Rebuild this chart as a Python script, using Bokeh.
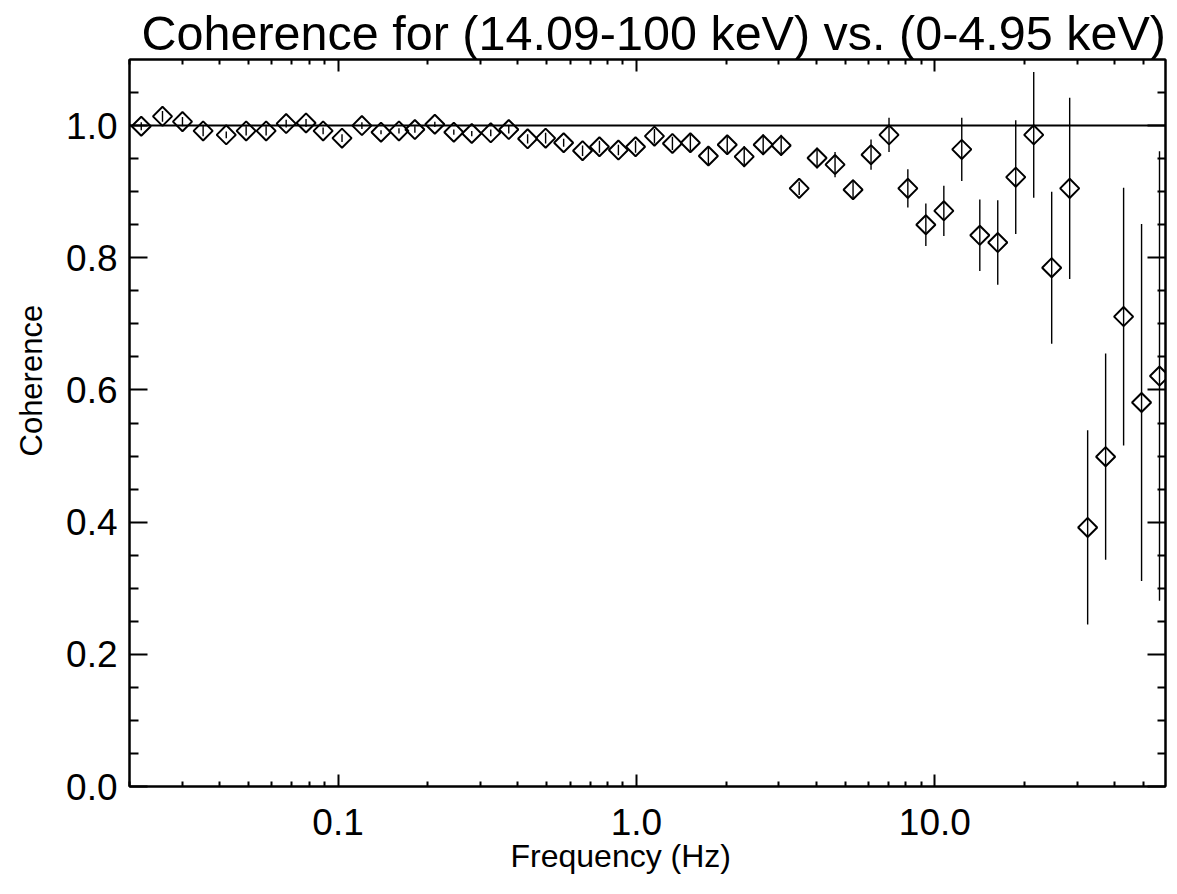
import numpy as np
from bokeh.plotting import figure
from bokeh.models import (FixedTicker, NumeralTickFormatter, LinearAxis, LogAxis,
                          Span, ColumnDataSource, Range1d, CustomJSTickFormatter, Title)
from bokeh.embed import file_html
from bokeh.resources import INLINE

# ---- data ----
freq = [0.0219, 0.0258, 0.0301, 0.0353, 0.0422, 0.0492, 0.0574, 0.0670, 0.0781, 0.0891,
        0.1031, 0.1202, 0.1393, 0.1600, 0.1809, 0.2110, 0.2443, 0.2806, 0.3249, 0.3733,
        0.4318, 0.4961, 0.5702, 0.6598, 0.7516, 0.8700, 0.9931, 1.149, 1.320, 1.516,
        1.742, 2.015, 2.297, 2.659, 3.055, 3.511, 4.030, 4.630, 5.320, 6.112,
        7.022, 8.120, 9.33, 10.72, 12.31, 14.15, 16.25, 18.67, 21.45, 24.64,
        28.31, 32.52, 37.36, 42.92, 49.30, 56.62]
coherence = [0.999, 1.014, 1.006, 0.992, 0.986, 0.992, 0.992, 1.003, 1.004, 0.992,
             0.981, 1.000, 0.990, 0.992, 0.994, 1.002, 0.990, 0.988, 0.989, 0.994,
             0.980, 0.981, 0.974, 0.962, 0.968, 0.963, 0.968, 0.984, 0.973, 0.974,
             0.954, 0.971, 0.953, 0.971, 0.970, 0.905, 0.951, 0.941, 0.903, 0.956,
             0.986, 0.905, 0.850, 0.871, 0.964, 0.834, 0.823, 0.922, 0.986, 0.785,
             0.905, 0.392, 0.499, 0.711, 0.581, 0.621]
coh_err = [0.006, 0.008, 0.007, 0.008, 0.005, 0.007, 0.007, 0.006, 0.006, 0.005,
           0.006, 0.005, 0.003, 0.004, 0.005, 0.004, 0.004, 0.004, 0.005, 0.006,
           0.007, 0.008, 0.006, 0.008, 0.009, 0.008, 0.009, 0.011, 0.010, 0.012,
           0.013, 0.012, 0.016, 0.016, 0.016, 0.010, 0.016, 0.019, 0.015, 0.023,
           0.026, 0.029, 0.032, 0.038, 0.048, 0.054, 0.064, 0.086, 0.095, 0.115,
           0.137, 0.147, 0.156, 0.195, 0.270, 0.340]

x_major = [0.1, 1.0, 10.0]
x_minor = [0.02, 0.03, 0.04, 0.05, 0.06, 0.07, 0.08, 0.09,
           0.2, 0.3, 0.4, 0.5, 0.6, 0.7, 0.8, 0.9,
           2, 3, 4, 5, 6, 7, 8, 9, 20, 30, 40, 50]
y_major = [0.0, 0.2, 0.4, 0.6, 0.8, 1.0]
y_minor = [0.05, 0.1, 0.15, 0.25, 0.3, 0.35, 0.45, 0.5, 0.55, 0.65, 0.7, 0.75,
           0.85, 0.9, 0.95, 1.05]

title = "Coherence for (14.09-100 keV) vs. (0-4.95 keV)"
xlabel = "Frequency  (Hz)"
ylabel = "Coherence"

FONT = "Liberation Sans"

lo = [c - e for c, e in zip(coherence, coh_err)]
hi = [c + e for c, e in zip(coherence, coh_err)]
src = ColumnDataSource(dict(f=freq, c=coherence, lo=lo, hi=hi))

p = figure(width=1169, height=886, x_axis_type="log",
           x_range=Range1d(0.02, 59.3), y_range=Range1d(0.0, 1.1),
           output_backend="svg", toolbar_location=None,
           min_border_left=129, min_border_right=4, min_border_top=59,
           min_border_bottom=100)

p.grid.visible = False
p.outline_line_color = "black"
p.outline_line_width = 2
p.background_fill_color = "white"
p.border_fill_color = "white"

xt = FixedTicker(ticks=x_major, minor_ticks=x_minor)
yt = FixedTicker(ticks=y_major, minor_ticks=y_minor)


def style_axis(ax, major_in, minor_in, labels=True):
    ax.axis_line_color = "black"
    ax.axis_line_width = 2
    ax.major_tick_line_color = "black"
    ax.major_tick_line_width = 2
    ax.minor_tick_line_color = "black"
    ax.minor_tick_line_width = 2
    ax.major_tick_in = major_in
    ax.major_tick_out = 0
    ax.minor_tick_in = minor_in
    ax.minor_tick_out = 0
    if labels:
        ax.major_label_text_font = FONT
        ax.major_label_text_font_size = "37px"
        ax.major_label_text_color = "black"
    else:
        ax.formatter = CustomJSTickFormatter(code="return '';")
        ax.major_label_text_font_size = "1px"
        ax.major_label_standoff = 0


xa = p.xaxis[0]
xa.ticker = xt
xa.formatter = NumeralTickFormatter(format="0.0")
style_axis(xa, 12, 5)
xa.major_label_standoff = 22

ya = p.yaxis[0]
ya.ticker = yt
ya.formatter = NumeralTickFormatter(format="0.0")
style_axis(ya, 18, 9)
ya.major_label_standoff = 12

top = LogAxis(ticker=FixedTicker(ticks=x_major, minor_ticks=x_minor))
style_axis(top, 12, 5, labels=False)
p.add_layout(top, "above")

right = LinearAxis(ticker=FixedTicker(ticks=y_major, minor_ticks=y_minor))
style_axis(right, 18, 8, labels=False)
p.add_layout(right, "right")

# titles / axis titles as layout titles so they sit outside the frame
p.title = Title(text=title, text_font=FONT, text_font_size="48.5px",
                text_font_style="normal", text_color="black",
                align="left", offset=12, standoff=0, vertical_align="bottom")
p.add_layout(Title(text=xlabel, text_font=FONT, text_font_size="32px",
                   text_font_style="normal", text_color="black",
                   align="left", offset=381, standoff=0, vertical_align="top"), "below")
p.add_layout(Title(text=ylabel, text_font=FONT, text_font_size="31px",
                   text_font_style="normal", text_color="black",
                   align="left", offset=330, standoff=26, vertical_align="top"), "left")

p.add_layout(Span(location=1.0, dimension="width", line_color="black", line_width=2))

p.segment(x0="f", y0="lo", x1="f", y1="hi", source=src, line_color="black", line_width=1.4)
p.scatter(x="f", y="c", source=src, marker="square", angle=np.pi / 4, size=13.5,
          fill_color=None, line_color="black", line_width=2)

open("out.html", "w").write(file_html(p, INLINE))
